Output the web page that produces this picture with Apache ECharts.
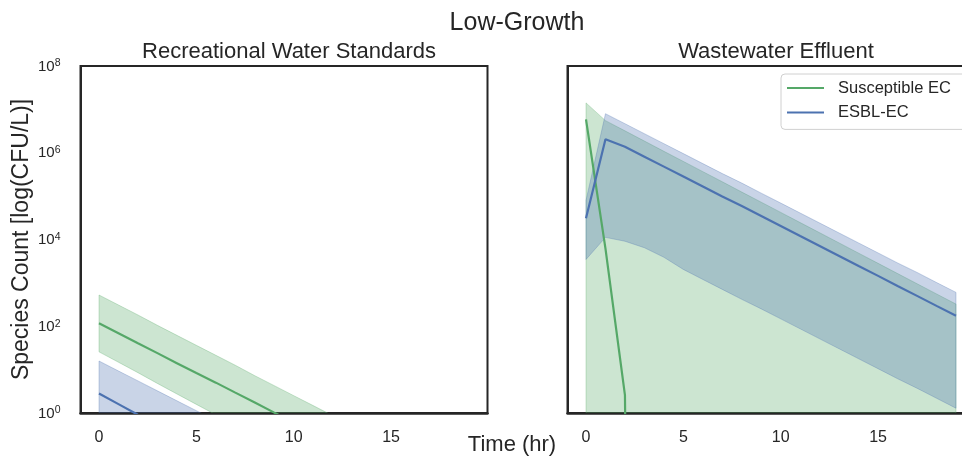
<!DOCTYPE html>
<html>
<head>
<meta charset="utf-8">
<script src="https://cdn.jsdelivr.net/npm/echarts@6/dist/echarts.min.js"></script>
<style>html,body{margin:0;padding:0;background:#fff;}#chart{width:962px;height:458px;}</style>
</head>
<body>
<div id="chart"></div>
<script>
// ---- data ----
const hours = [0, 1, 2, 3, 4, 5, 6, 7, 8, 9, 10, 11, 12, 13, 14, 15, 16, 17, 18, 19];
const xTicks = [0, 5, 10, 15];
const seriesNames = ['Susceptible EC', 'ESBL-EC'];
const panelTitles = ['Recreational Water Standards', 'Wastewater Effluent'];
const figTitle = 'Low-Growth';
const xLabel = 'Time (hr)';
const yLabel = 'Species Count [log(CFU/L)]';

// Recreational Water Standards
const recSusMean  = [117, 69.2, 40.7, 24.0, 14.1, 8.32, 5.01, 2.95, 1.74, 1.02, 0.603, 0.355, 0.209, 0.123, 0.0724, 0.0427, 0.0251, 0.0148, 0.0087, 0.0051];
const recSusUpper = [525, 309, 182, 105, 61.7, 36.3, 21.4, 12.6, 7.24, 4.27, 2.51, 1.48, 0.87, 0.50, 0.295, 0.174, 0.102, 0.060, 0.035, 0.020];
const recSusLower = [25.7, 14.8, 8.5, 4.8, 2.75, 1.58, 0.91, 0.52, 0.30, 0.17, 0.10, 0.057, 0.033, 0.019, 0.011, 0.0063, 0.0036, 0.0021, 0.0012, 0.0007];
const recEsblMean  = [2.82, 1.60, 0.91, 0.52, 0.29, 0.166, 0.094, 0.054, 0.030, 0.017, 0.0098, 0.0056, 0.0032, 0.0018, 0.0010, 0.00058, 0.00033, 0.00019, 0.00011, 0.00006];
const recEsblUpper = [15.8, 9.3, 5.5, 3.24, 1.91, 1.13, 0.67, 0.40, 0.23, 0.14, 0.08, 0.047, 0.028, 0.016, 0.0096, 0.0057, 0.0033, 0.0020, 0.0012, 0.0007];
const recEsblLower = [0.05, 0.03, 0.018, 0.011, 0.006, 0.0035, 0.002, 0.0012, 0.0007, 0.0004, 0.00024, 0.00014, 0.00008, 0.00005, 0.00003, 0.000017, 0.00001, 0.000006, 0.0000035, 0.000002];

// Wastewater Effluent
const wwSusMean  = [5.9e6, 6170, 2.57, 1e-40, 1e-40, 1e-40, 1e-40, 1e-40, 1e-40, 1e-40, 1e-40, 1e-40, 1e-40, 1e-40, 1e-40, 1e-40, 1e-40, 1e-40, 1e-40, 1e-40];
const wwSusUpper = [1.41e7, 5.50e6, 3.20e6, 1.86e6, 1.08e6, 6.31e5, 3.67e5, 2.14e5, 1.24e5, 7.24e4, 4.22e4, 2.45e4, 1.43e4, 8320, 4840, 2820, 1640, 955, 556, 324];
const wwSusLower = [0.4, 0.001, 0.001, 0.001, 0.001, 0.001, 0.001, 0.001, 0.001, 0.001, 0.001, 0.001, 0.001, 0.001, 0.001, 0.001, 0.001, 0.001, 0.001, 0.001];
const wwEsblMean  = [3.09e4, 2.04e6, 1.38e6, 8.13e5, 4.79e5, 2.82e5, 1.66e5, 9.77e4, 5.89e4, 3.47e4, 2.04e4, 1.20e4, 7080, 4170, 2450, 1450, 851, 501, 295, 174];
const wwEsblUpper = [7.94e4, 7.94e6, 4.68e6, 2.75e6, 1.62e6, 9.55e5, 5.62e5, 3.31e5, 2.00e5, 1.17e5, 6.92e4, 4.07e4, 2.40e4, 1.41e4, 8320, 4900, 2880, 1740, 1020, 603];
const wwEsblLower = [3470, 1.12e4, 9120, 6460, 3890, 2040, 1200, 708, 417, 251, 148, 87.1, 51.3, 30.2, 17.8, 10.5, 6.17, 3.72, 2.19, 1.29];

// ---- styling ----
const FONT = "'Liberation Sans', Arial, sans-serif";
const GREEN = '#55a868', BLUE = '#4c72b0';
const GREEN_FILL = 'rgba(85,168,104,0.3)', BLUE_FILL = 'rgba(76,114,176,0.3)';
const TEXT = '#262626', SPINE = '#262626';

function pairs(ys) { return hours.map((h, i) => [h, ys[i]]); }

function band(name, idx, upper, lower, fill) {
  return {
    type: 'custom', name: name, xAxisIndex: idx, yAxisIndex: idx, z: 1, silent: true,
    data: [[hours[0], upper[0]]],
    renderItem: function (params, api) {
      const pts = [];
      for (let i = 0; i < hours.length; i++) pts.push(api.coord([hours[i], upper[i]]));
      for (let i = hours.length - 1; i >= 0; i--) pts.push(api.coord([hours[i], lower[i]]));
      const cs = params.coordSys;
      return {
        type: 'polygon', shape: { points: pts },
        style: { fill: fill, stroke: fill, lineWidth: 1 },
        clipPath: { type: 'rect', shape: { x: cs.x, y: cs.y, width: cs.width, height: cs.height } }
      };
    }
  };
}
function line(name, idx, ys, color) {
  return {
    type: 'line', name: name, xAxisIndex: idx, yAxisIndex: idx, z: 3,
    data: pairs(ys), showSymbol: false, symbol: 'none', clip: true, silent: true,
    lineStyle: { color: color, width: 2.2 }, itemStyle: { color: color }
  };
}

const grids = [
  { left: 80.5, top: 66, width: 407, height: 347 },
  { left: 567.5, top: 66, width: 407, height: 347 }
];

function xAxis(idx) {
  return {
    type: 'value', gridIndex: idx, min: -0.95, max: 19.95,
    axisLine: { show: true, onZero: false, lineStyle: { color: SPINE, width: 2.5 } },
    axisTick: { show: false }, splitLine: { show: false },
    axisLabel: { customValues: xTicks, color: TEXT, fontFamily: FONT, fontSize: 16, margin: 17 }
  };
}
function yAxis(idx) {
  return {
    type: 'log', logBase: 10, gridIndex: idx, min: 1, max: 1e8,
    axisLine: { show: true, onZero: false, lineStyle: { color: SPINE, width: 2 } },
    axisTick: { show: false }, splitLine: { show: false },
    axisLabel: {
      show: idx === 0, margin: 20, color: TEXT, fontFamily: FONT,
      formatter: function (v) {
        const e = Math.round(Math.log10(v));
        if (e % 2 !== 0) return '';
        return '{b|10}{s|' + e + '}';
      },
      rich: {
        b: { fontSize: 15, lineHeight: 16, verticalAlign: 'bottom', color: TEXT, fontFamily: FONT },
        s: { fontSize: 10.5, lineHeight: 11, verticalAlign: 'top', padding: [0, 0, 13, 0], color: TEXT, fontFamily: FONT }
      }
    },
    name: idx === 0 ? yLabel : '', nameLocation: 'middle', nameGap: 47, nameRotate: 90,
    nameTextStyle: { fontSize: 23, color: TEXT, fontFamily: FONT }
  };
}

const option = {
  animation: false,
  backgroundColor: '#fff',
  title: [
    { text: figTitle, left: 512, top: 6, textAlign: 'center', textStyle: { fontSize: 25, fontWeight: 'normal', color: TEXT, fontFamily: FONT } },
    { text: panelTitles[0], left: 284, top: 36, textAlign: 'center', textStyle: { fontSize: 22, fontWeight: 'normal', color: TEXT, fontFamily: FONT } },
    { text: panelTitles[1], left: 771, top: 36, textAlign: 'center', textStyle: { fontSize: 22, fontWeight: 'normal', color: TEXT, fontFamily: FONT } }
  ],
  graphic: [
    { type: 'text', x: 512, y: 445, style: { text: xLabel, fill: TEXT, font: '22px ' + FONT, textAlign: 'center', textVerticalAlign: 'middle' } }
  ],
  legend: {
    orient: 'vertical', left: 781, top: 74,
    padding: [4, 18, 7, 6], itemGap: 4.4,
    borderColor: '#d0d0d0', borderWidth: 1, borderRadius: 4, backgroundColor: '#fff',
    itemWidth: 37, itemHeight: 2,
    textStyle: { fontSize: 16.5, lineHeight: 20, color: TEXT, fontFamily: FONT, padding: [0, 0, 0, 9] },
    data: [
      { name: seriesNames[0], icon: 'rect', itemStyle: { color: GREEN } },
      { name: seriesNames[1], icon: 'rect', itemStyle: { color: BLUE } }
    ],
    selectedMode: false
  },
  grid: grids.map(g => Object.assign({ show: true, borderColor: SPINE, borderWidth: 2, backgroundColor: 'transparent', containLabel: false, outerBoundsMode: 'none' }, g)),
  xAxis: [xAxis(0), xAxis(1)],
  yAxis: [yAxis(0), yAxis(1)],
  series: [
    band(seriesNames[0], 0, recSusUpper, recSusLower, GREEN_FILL),
    band(seriesNames[1], 0, recEsblUpper, recEsblLower, BLUE_FILL),
    line(seriesNames[0], 0, recSusMean, GREEN),
    line(seriesNames[1], 0, recEsblMean, BLUE),
    band(seriesNames[0], 1, wwSusUpper, wwSusLower, GREEN_FILL),
    band(seriesNames[1], 1, wwEsblUpper, wwEsblLower, BLUE_FILL),
    line(seriesNames[0], 1, wwSusMean, GREEN),
    line(seriesNames[1], 1, wwEsblMean, BLUE)
  ]
};

const chart = echarts.init(document.getElementById('chart'), null, { renderer: 'canvas' });
chart.setOption(option);
</script>
</body>
</html>
